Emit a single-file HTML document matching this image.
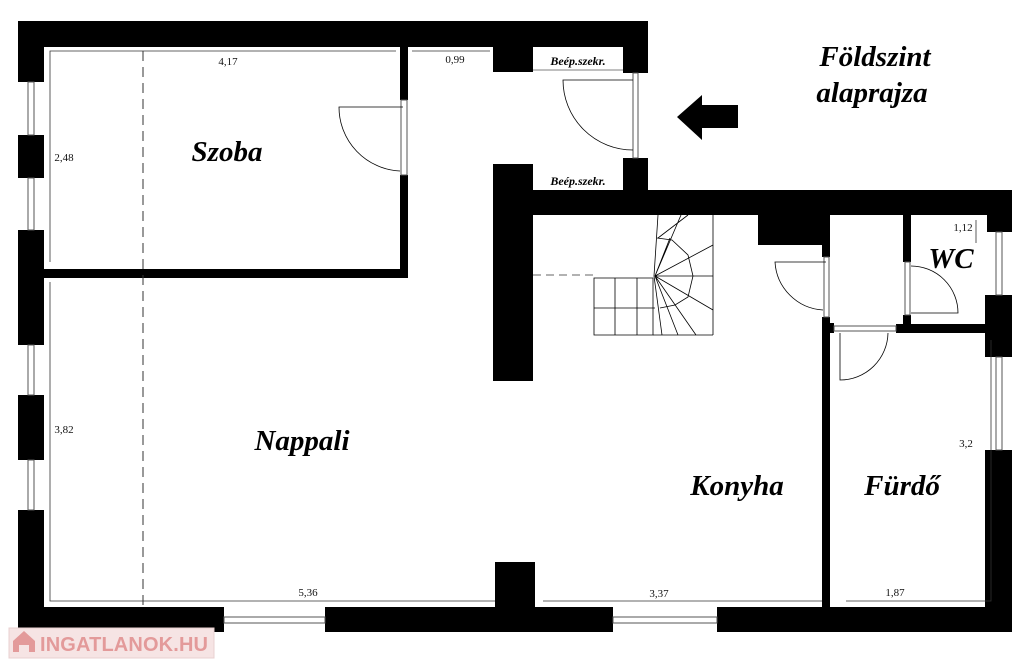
<!DOCTYPE html>
<html><head><meta charset="utf-8"><style>
html,body{margin:0;padding:0;background:#fff;}
svg{display:block;}
text{font-family:"Liberation Serif",serif;}
.d{font-size:11px;fill:#111;}
.r{font-size:29px;font-weight:bold;font-style:italic;fill:#000;}
.b{font-size:12px;font-weight:bold;font-style:italic;fill:#000;}
</style></head><body>
<svg width="1024" height="668" viewBox="0 0 1024 668" xmlns="http://www.w3.org/2000/svg">
<rect width="1024" height="668" fill="#fff"/>
<g fill="#000">
<rect x="18" y="21" width="630" height="26"/>
<rect x="493" y="44" width="40" height="28"/>
<rect x="623" y="44" width="25" height="29"/>
<rect x="18" y="21" width="26" height="61"/>
<rect x="18" y="135" width="26" height="43"/>
<rect x="18" y="230" width="26" height="115"/>
<rect x="18" y="395" width="26" height="65"/>
<rect x="18" y="510" width="26" height="122"/>
<rect x="18" y="607" width="206" height="25"/>
<rect x="325" y="607" width="288" height="25"/>
<rect x="717" y="607" width="295" height="25"/>
<rect x="495" y="562" width="40" height="47"/>
<rect x="493" y="164" width="40" height="217"/>
<rect x="400" y="44" width="8" height="56"/>
<rect x="400" y="175" width="8" height="103"/>
<rect x="44" y="269" width="364" height="9"/>
<rect x="623" y="158" width="25" height="35"/>
<rect x="493" y="190" width="519" height="25"/>
<rect x="758" y="213" width="72" height="32"/>
<rect x="822" y="243" width="8" height="14"/>
<rect x="822" y="317" width="8" height="290"/>
<rect x="822" y="323" width="12" height="10"/>
<rect x="903" y="213" width="8" height="49"/>
<rect x="903" y="315" width="8" height="18"/>
<rect x="896" y="324" width="94" height="9"/>
<rect x="987" y="190" width="25" height="42"/>
<rect x="985" y="295" width="27" height="62"/>
<rect x="985" y="450" width="27" height="182"/>
</g>
<g fill="#fff" stroke="#555" stroke-width="1">
<rect x="28" y="82" width="6" height="53"/>
<rect x="28" y="178" width="6" height="52"/>
<rect x="28" y="345" width="6" height="50"/>
<rect x="28" y="460" width="6" height="50"/>
<rect x="224" y="617" width="101" height="6"/>
<rect x="613" y="617" width="104" height="6"/>
<rect x="996" y="232" width="6" height="63"/>
<rect x="996" y="357" width="6" height="93"/>
<rect x="401" y="100" width="6" height="75"/>
<rect x="633" y="73" width="5" height="85"/>
<rect x="824" y="257" width="5" height="60"/>
<rect x="905" y="262" width="5" height="53"/>
<rect x="834" y="326" width="62" height="5"/>
</g>
<rect x="533" y="47" width="90" height="23" fill="#fff"/>
<line x1="533" y1="70" x2="623" y2="70" stroke="#000" stroke-width="0.5"/>
<rect x="533" y="166" width="90" height="24" fill="#fff"/>
<text class="b" x="578" y="65" text-anchor="middle">Beép.szekr.</text>
<text class="b" x="578" y="185" text-anchor="middle">Beép.szekr.</text>
<g fill="none" stroke="#000" stroke-width="0.8">
<path d="M403 107 L339 107 A64 64 0 0 0 400 171"/>
<path d="M633 80 L563 80 A70 70 0 0 0 633 150"/>
<path d="M826 262 L775 262 A51 51 0 0 0 823 310"/>
<path d="M911 313 L958 313 A47 47 0 0 0 911 266"/>
<path d="M840 333 L840 380 A48 48 0 0 0 888 333"/>
</g>
<g fill="none" stroke="#333" stroke-width="0.8">
<path d="M50 262 V51 H396"/>
<path d="M412 51 H490"/>
<path d="M50 282 V601 H495"/>
<path d="M543 601 H822"/>
<path d="M846 601 H991 V340"/>
<path d="M976 220 V243"/>
<path d="M143 51 V607" stroke-dasharray="10 6" stroke-width="1"/>
<path d="M533 275 H593" stroke-dasharray="8 5"/>
</g>
<g fill="none" stroke="#000" stroke-width="0.8">
<path d="M594 278 H653 V335 H594 Z"/>
<path d="M615 278 V335 M637 278 V335 M594 308 H655"/>
<path d="M713 215 V335 M653 335 H713"/>
<path d="M658 215 L654 276 L662 335"/>
<path d="M655 276 L681 215 M655 276 L713 245 M655 276 L713 276 M655 276 L713 310 M655 276 L696 335 M655 276 L678 335 M655 276 L670 238 M658 238 L688 215"/>
<path d="M657 238 L672 240 L688 255 L693 276 L688 297 L675 305 L660 308"/>
</g>
<polygon points="677,117 702,95 702,105 738,105 738,128 702,128 702,140" fill="#000"/>
<text class="d" x="228" y="65" text-anchor="middle">4,17</text>
<text class="d" x="455" y="63" text-anchor="middle">0,99</text>
<text class="d" x="64" y="161" text-anchor="middle">2,48</text>
<text class="d" x="64" y="433" text-anchor="middle">3,82</text>
<text class="d" x="308" y="596" text-anchor="middle">5,36</text>
<text class="d" x="659" y="597" text-anchor="middle">3,37</text>
<text class="d" x="895" y="596" text-anchor="middle">1,87</text>
<text class="d" x="966" y="447" text-anchor="middle">3,2</text>
<text class="d" x="963" y="231" text-anchor="middle">1,12</text>
<text class="r" x="227" y="161" text-anchor="middle">Szoba</text>
<text class="r" x="302" y="450" text-anchor="middle">Nappali</text>
<text class="r" x="737" y="495" text-anchor="middle">Konyha</text>
<text class="r" x="902" y="495" text-anchor="middle">Fürdő</text>
<text class="r" x="951" y="268" text-anchor="middle">WC</text>
<text class="r" x="875" y="66" text-anchor="middle">Földszint</text>
<text class="r" x="872" y="102" text-anchor="middle">alaprajza</text>
<rect x="9" y="628" width="205" height="30" fill="#f6e4e4" stroke="#e8d0d0"/>
<path d="M13 652 V641 L24 631 L35 641 V652 H29 V645 H19 V652 Z" fill="#e39a9a"/>
<text x="40" y="651" style="font-family:'Liberation Sans Narrow','Liberation Sans',sans-serif;font-weight:bold;font-size:20px" textLength="168" fill="#e39a9a">INGATLANOK.HU</text>
</svg>
</body></html>
